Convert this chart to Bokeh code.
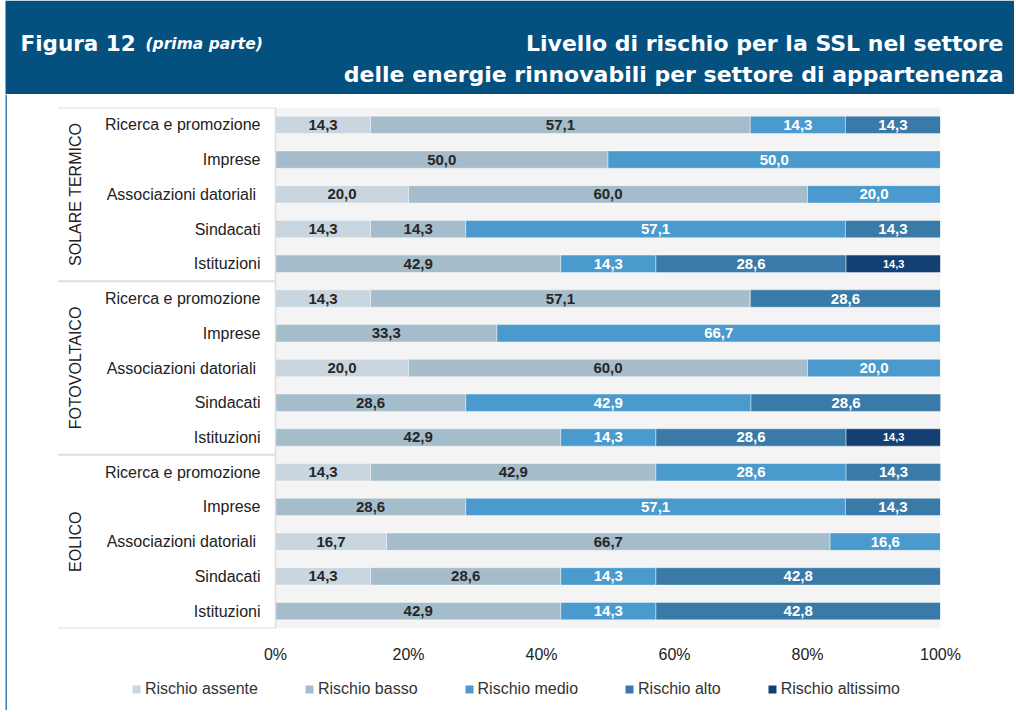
import math
from bokeh.plotting import figure
from bokeh.models import (ColumnDataSource, FactorRange, Range1d, FixedTicker,
                          PrintfTickFormatter, BoxAnnotation, Legend, LegendItem)
from bokeh.layouts import column, row
from bokeh.embed import file_html
from bokeh.resources import INLINE
from bokeh.core.properties import value

# ---------------- data ----------------
groups = ["SOLARE TERMICO", "FOTOVOLTAICO", "EOLICO"]
actors = ["Ricerca e promozione", "Imprese", "Associazioni datoriali ", "Sindacati", "Istituzioni"]
levels = ["Rischio assente", "Rischio basso", "Rischio medio", "Rischio alto", "Rischio altissimo"]
ticks = [0, 20, 40, 60, 80, 100]

assente = [14.3, 0, 20.0, 14.3, 0, 14.3, 0, 20.0, 0, 0, 14.3, 0, 16.7, 14.3, 0]
basso = [57.1, 50.0, 60.0, 14.3, 42.9, 57.1, 33.3, 60.0, 28.6, 42.9, 42.9, 28.6, 66.7, 28.6, 42.9]
medio = [14.3, 50.0, 20.0, 57.1, 14.3, 0, 66.7, 20.0, 42.9, 14.3, 28.6, 57.1, 16.6, 14.3, 14.3]
alto = [14.3, 0, 0, 14.3, 28.6, 28.6, 0, 0, 28.6, 28.6, 14.3, 14.3, 0, 42.8, 42.8]
altissimo = [0, 0, 0, 0, 14.3, 0, 0, 0, 0, 14.3, 0, 0, 0, 0, 0]

# ---------------- style ----------------
colors = ["#c9d6e0", "#a5bccb", "#4a9acd", "#3a7aa8", "#143f73"]
label_colors = ["#262626", "#262626", "white", "white", "white"]
HDR = "#04507f"
FONT = "Liberation Sans"

cats = [(g, a) for g in groups for a in actors]
series = [assente, basso, medio, alto, altissimo]
keys = ["assente", "basso", "medio", "alto", "altissimo"]

src = ColumnDataSource(dict(y=cats, **{k: s for k, s in zip(keys, series)}))

TOTAL_W = 1014
HEAD_H = 94
MAIN_H = 581
LEG_H = 35
STRIP_W = 7
FRAME_L = 57
FRAME_R = 940


def bare(fig):
    fig.grid.visible = False
    return fig


# ---------------- header ----------------
h = bare(figure(width=TOTAL_W, height=HEAD_H, x_range=Range1d(0, TOTAL_W), y_range=Range1d(HEAD_H, 0),
                output_backend="svg", toolbar_location=None, min_border=0,
                x_axis_location=None, y_axis_location=None,
                background_fill_color="white", border_fill_color="white", outline_line_color=None))
h.quad(left=[5], right=[TOTAL_W], top=[0], bottom=[HEAD_H], fill_color=HDR, line_color=None)
h.text(x=[20], y=[43], text=["Figura 12"], text_font=value("DejaVu Sans"),
       text_font_style="bold", text_font_size="21.5px", text_color="white",
       text_baseline="alphabetic", text_align="left")
h.text(x=[145], y=[43], text=["(prima parte)"], text_font=value("DejaVu Sans"),
       text_font_style="bold italic", text_font_size="15.5px", text_color="white",
       text_baseline="alphabetic", text_align="left")
h.text(x=[1003, 1003], y=[43, 74],
       text=["Livello di rischio per la SSL nel settore",
             "delle energie rinnovabili per settore di appartenenza"],
       text_font=value("DejaVu Sans"), text_font_style="bold", text_font_size="22px",
       text_color="white", text_baseline="alphabetic", text_align="right")

# ---------------- left strip ----------------
strip = bare(figure(width=STRIP_W, height=MAIN_H + LEG_H, x_range=Range1d(0, STRIP_W), y_range=Range1d(0, 1),
                    output_backend="svg", toolbar_location=None, min_border=0,
                    x_axis_location=None, y_axis_location=None,
                    background_fill_color="white", border_fill_color="white",
                    outline_line_color=None))
strip.quad(left=[5], right=[7], bottom=[0], top=[1], fill_color="#3f7ab0", line_color=None)

# ---------------- main chart ----------------
PX_PER_UNIT = (FRAME_R - 275) / 100.0
X0 = -(275 - FRAME_L) / PX_PER_UNIT

yr = FactorRange(*list(reversed(cats)), group_padding=0, factor_padding=0, range_padding=0)
p = figure(width=TOTAL_W - STRIP_W, height=MAIN_H, x_range=Range1d(X0, 100), y_range=yr,
           output_backend="svg", toolbar_location=None,
           min_border_left=FRAME_L - STRIP_W, min_border_right=TOTAL_W - FRAME_R, min_border_top=13,
           min_border_bottom=MAIN_H - 13 - 521,
           y_axis_location=None, outline_line_color=None,
           background_fill_color="white", border_fill_color="white")
p.grid.visible = False

p.add_layout(BoxAnnotation(left=0, right=100, fill_color="#f4f4f4", fill_alpha=1,
                           line_color=None, level="underlay"))

rends = p.hbar_stack(keys, y="y", height=0.5, color=colors, source=src,
                     line_color="white", line_width=0.6, line_alpha=0.7)

# separators in label area
n = len(cats)
sep_y = [0, 5, 10, 15]
p.segment(x0=[X0] * len(sep_y), x1=[0] * len(sep_y), y0=sep_y, y1=sep_y,
          line_color="#dddddd", line_width=2)
p.segment(x0=[0], x1=[0], y0=[0], y1=[n], line_color="#dddddd", line_width=1.5)

# value labels
lx, ly, lt, lc, ls = [], [], [], [], []
for i, cat in enumerate(cats):
    left = 0.0
    for j, s in enumerate(series):
        v = s[i]
        if v > 0:
            lx.append(left + v / 2)
            ly.append(cat)
            lt.append(f"{v:.1f}".replace(".", ","))
            lc.append(label_colors[j])
            ls.append("11px" if j == 4 else "15px")
        left += v
lsrc = ColumnDataSource(dict(x=lx, y=ly, t=lt, c=lc, s=ls))
p.text(x="x", y="y", text="t", text_color="c", text_font_size="s",
       text_font=value(FONT), text_font_style="bold", text_align="center",
       text_baseline="middle", source=lsrc)

# category labels
p.text(x=[-15 / PX_PER_UNIT] * n, y=cats, text=[c[1] for c in cats],
       text_font=value(FONT), text_font_size="16px", text_color="#222222",
       text_align="right", text_baseline="middle")
p.text(x=[(75 - 275) / PX_PER_UNIT] * len(groups), y=groups, text=groups,
       angle=math.pi / 2, text_font=value(FONT), text_font_size="16px",
       text_color="#222222", text_align="center", text_baseline="middle")

# x axis
ax = p.xaxis[0]
ax.ticker = FixedTicker(ticks=ticks)
ax.formatter = PrintfTickFormatter(format="%d%%")
ax.axis_line_color = None
ax.major_tick_line_color = None
ax.minor_tick_line_color = None
ax.major_tick_in = 0
ax.major_tick_out = 0
ax.major_label_standoff = 17
ax.major_label_text_font = FONT
ax.major_label_text_font_size = "16px"
ax.major_label_text_color = "#222222"

# ---------------- legend strip ----------------
# (frame of this figure is aligned with the main chart's frame by the column layout)
lf = bare(figure(width=TOTAL_W - STRIP_W, height=LEG_H, x_range=Range1d(0, 1), y_range=Range1d(0, 1),
                 output_backend="svg", toolbar_location=None,
                 min_border_left=FRAME_L - STRIP_W, min_border_right=TOTAL_W - FRAME_R,
                 min_border_top=0, min_border_bottom=0,
                 x_axis_location=None, y_axis_location=None,
                 background_fill_color="white", border_fill_color="white",
                 outline_line_color=None))
# off-screen proxy glyphs, only used to draw the legend swatches
leg_rends = [lf.rect(x=[-10], y=[-10], width=1, height=1, fill_color=c, line_color=None)
             for c in colors]
legend = Legend(items=[LegendItem(label=l, renderers=[r]) for l, r in zip(levels, leg_rends)],
                orientation="horizontal", location=(131 - FRAME_L, 12),
                glyph_width=10, glyph_height=10, label_standoff=4, spacing=46,
                padding=0, margin=0, background_fill_alpha=0, border_line_color=None,
                label_text_font=FONT, label_text_font_size="16px",
                label_text_color="#333333", label_height=16)
lf.add_layout(legend)

layout = column(h, row(strip, column(p, lf)))
open("out.html", "w").write(file_html(layout, INLINE))
